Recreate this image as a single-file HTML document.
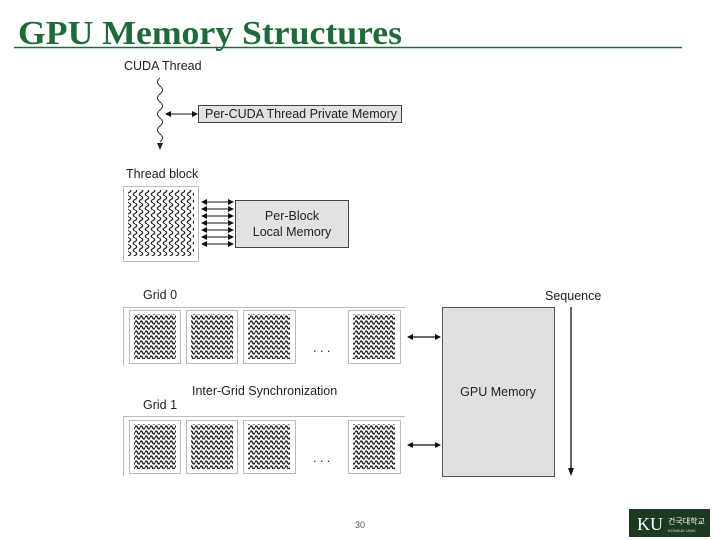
<!DOCTYPE html>
<html><head><meta charset="utf-8"><style>
html,body{margin:0;padding:0;background:#fff;width:720px;height:540px;overflow:hidden}
svg{display:block}
</style></head><body>
<svg width="720" height="540" viewBox="0 0 720 540" xmlns="http://www.w3.org/2000/svg">
<defs>
<pattern id="hw" x="0" y="0" width="5" height="5" patternUnits="userSpaceOnUse">
<path d="M0 2.5 Q1.25 -0.5 2.5 2.5 T5 2.5" fill="none" stroke="#222" stroke-width="1.4"/>
</pattern>
<pattern id="vw" x="0" y="0" width="6" height="7" patternUnits="userSpaceOnUse">
<path d="M3 0 Q6.5 1.75 3 3.5 T3 7" fill="none" stroke="#222" stroke-width="1.2"/>
</pattern>
<marker id="ah" markerWidth="6" markerHeight="6" refX="5" refY="3" orient="auto" markerUnits="userSpaceOnUse">
<path d="M0 0 L6 3 L0 6 Z" fill="#111"/></marker>
<marker id="at" markerWidth="6" markerHeight="6" refX="1" refY="3" orient="auto" markerUnits="userSpaceOnUse">
<path d="M6 0 L0 3 L6 6 Z" fill="#111"/></marker>
</defs>
<text x="18" y="44" font-family="Liberation Serif, serif" font-weight="bold" font-size="34" fill="#1e6b3a" textLength="384" lengthAdjust="spacingAndGlyphs">GPU Memory Structures</text>
<line x1="14" y1="47.5" x2="682" y2="47.5" stroke="#1e6b3a" stroke-width="1.5"/>

<g font-family="Liberation Sans, sans-serif" font-size="12.5" fill="#222">
<text x="124" y="70">CUDA Thread</text>
<path d="M160 78 q-5 4 0 8 t0 8 t0 8 t0 8 t0 8 t0 8 t0 8 t0 8" fill="none" stroke="#333" stroke-width="1"/>
<path d="M157 143 L160 150 L163 143 Z" fill="#222"/>
<line x1="166" y1="114" x2="197" y2="114" stroke="#111" marker-end="url(#ah)" marker-start="url(#at)"/>
<rect x="198.5" y="105.5" width="203" height="17" fill="#e2e2e2" stroke="#444"/>
<text x="205" y="118" textLength="192" lengthAdjust="spacingAndGlyphs">Per-CUDA Thread Private Memory</text>

<text x="126" y="178">Thread block</text>
<rect x="123.5" y="186.5" width="75" height="75" fill="#fff" stroke="#bbb"/>
<rect x="128" y="190" width="66" height="66" fill="url(#vw)"/>
<g stroke="#111" marker-end="url(#ah)" marker-start="url(#at)">
<line x1="202" y1="202" x2="233" y2="202"/><line x1="202" y1="209" x2="233" y2="209"/>
<line x1="202" y1="216" x2="233" y2="216"/><line x1="202" y1="223" x2="233" y2="223"/>
<line x1="202" y1="230" x2="233" y2="230"/><line x1="202" y1="237" x2="233" y2="237"/>
<line x1="202" y1="244" x2="233" y2="244"/>
</g>
<rect x="235.5" y="200.5" width="113" height="47" fill="#e2e2e2" stroke="#444"/>
<text x="292" y="220" text-anchor="middle">Per-Block</text>
<text x="292" y="236" text-anchor="middle">Local Memory</text>

<text x="143" y="299">Grid 0</text>
<path d="M123.5 366 V307.5 H405" fill="none" stroke="#bbb"/>
<g fill="#fff" stroke="#bbb">
<rect x="129.5" y="310.5" width="51" height="53"/><rect x="186.5" y="310.5" width="51" height="53"/>
<rect x="243.5" y="310.5" width="52" height="53"/><rect x="348.5" y="310.5" width="52" height="53"/>
</g>
<g fill="url(#hw)">
<rect x="134" y="314" width="42" height="45"/><rect x="191" y="314" width="42" height="45"/>
<rect x="248" y="314" width="42" height="45"/><rect x="353" y="314" width="42" height="45"/>
</g>
<text x="313" y="352">. . .</text>

<text x="192" y="395">Inter-Grid Synchronization</text>
<text x="143" y="409">Grid 1</text>
<path d="M123.5 476 V416.5 H405" fill="none" stroke="#bbb"/>
<g fill="#fff" stroke="#bbb">
<rect x="129.5" y="420.5" width="51" height="53"/><rect x="186.5" y="420.5" width="51" height="53"/>
<rect x="243.5" y="420.5" width="52" height="53"/><rect x="348.5" y="420.5" width="52" height="53"/>
</g>
<g fill="url(#hw)">
<rect x="134" y="424" width="42" height="45"/><rect x="191" y="424" width="42" height="45"/>
<rect x="248" y="424" width="42" height="45"/><rect x="353" y="424" width="42" height="45"/>
</g>
<text x="313" y="462">. . .</text>

<line x1="408" y1="337" x2="440" y2="337" stroke="#111" stroke-width="1.3" marker-end="url(#ah)" marker-start="url(#at)"/>
<line x1="408" y1="445" x2="440" y2="445" stroke="#111" stroke-width="1.3" marker-end="url(#ah)" marker-start="url(#at)"/>
<rect x="442.5" y="307.5" width="112" height="169" fill="#e0e0e0" stroke="#555"/>
<text x="498" y="396" text-anchor="middle">GPU Memory</text>
<text x="545" y="300">Sequence</text>
<line x1="571" y1="307" x2="571" y2="472" stroke="#111" stroke-width="1.3"/>
<path d="M568 468 L571 476 L574 468 Z" fill="#111"/>
</g>
<text x="360" y="528" font-family="Liberation Sans, sans-serif" font-size="9" fill="#555" text-anchor="middle">30</text>
<rect x="629" y="509" width="81" height="28" fill="#1c3a22"/>
<text x="637" y="530" font-family="Liberation Serif, serif" font-size="18" fill="#fff">KU</text>
<text x="668" y="524" font-family="Liberation Sans, Noto Sans CJK KR, sans-serif" font-size="8" fill="#fff">건국대학교</text>
<text x="668" y="532" font-family="Liberation Sans, sans-serif" font-size="4" fill="#ddd">KONKUK UNIV.</text>
</svg>
</body></html>
